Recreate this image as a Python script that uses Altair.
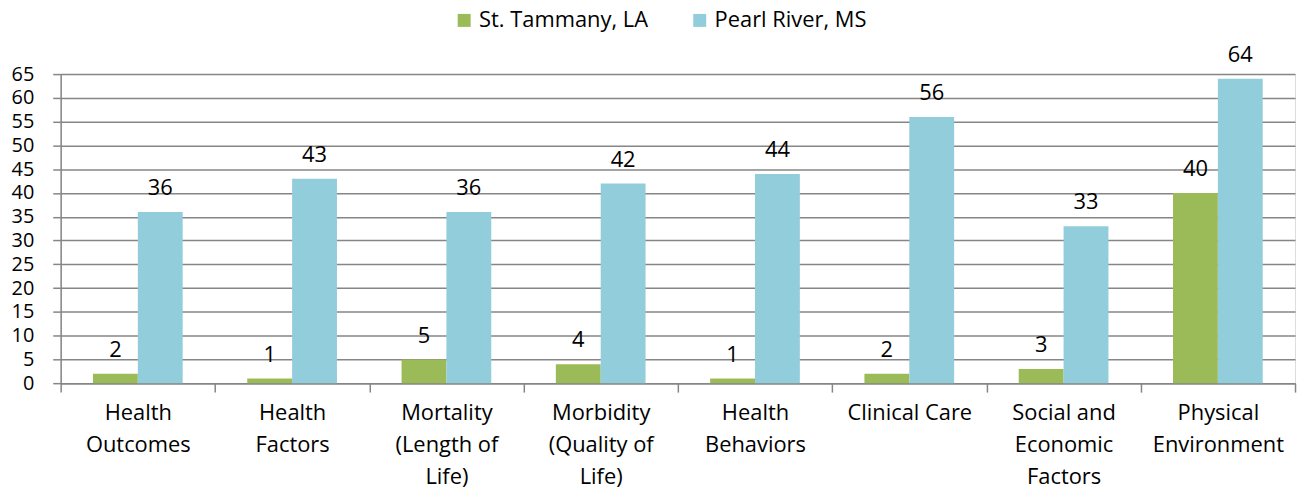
import altair as alt
import pandas as pd

categories = ["Health|Outcomes", "Health|Factors", "Mortality|(Length of|Life)",
              "Morbidity|(Quality of|Life)", "Health|Behaviors", "Clinical Care",
              "Social and|Economic|Factors", "Physical|Environment"]
series = ["St. Tammany, LA", "Pearl River, MS"]
st_tammany = [2, 1, 5, 4, 1, 2, 3, 40]
pearl_river = [36, 43, 36, 42, 44, 56, 33, 64]
colors = ["#9BBB59", "#92CDDC"]
y_ticks = [0, 5, 10, 15, 20, 25, 30, 35, 40, 45, 50, 55, 60, 65]

rows = []
for c, a, b in zip(categories, st_tammany, pearl_river):
    rows.append({"category": c, "series": series[0], "value": a})
    rows.append({"category": c, "series": series[1], "value": b})
df = pd.DataFrame(rows)

FONT = "Open Sans"
FS = 22

x = alt.X("category:N", sort=categories, title=None,
          scale=alt.Scale(paddingInner=0, paddingOuter=0),
          axis=alt.Axis(labelExpr="isValid(datum.value) ? split(datum.value, '|') : ''",
                        labelAngle=0,
                        labelFontSize=FS, labelFont=FONT, labelColor="#000000",
                        labelLineHeight=32, labelBaseline="top", labelPadding=11,
                        labelOverlap=False, labelBound=False, labelLimit=300,
                        tickBand="extent", tickSize=9, tickColor="#868686",
                        tickWidth=1.5, domainColor="#868686", domainWidth=1.5,
                        grid=False))
xo = alt.XOffset("series:N", sort=series,
                 scale=alt.Scale(paddingInner=0, paddingOuter=0.72))
y = alt.Y("value:Q", title=None,
          scale=alt.Scale(domain=[0, 65], nice=False),
          axis=alt.Axis(values=y_ticks, labelFontSize=20, labelFont=FONT,
                        labelColor="#000000", labelPadding=19, tickSize=8,
                        labelOverlap=False, labelFlush=False,
                        tickColor="#868686", tickWidth=1.5, gridColor="#868686",
                        gridWidth=1.5, domainColor="#868686", domainWidth=1.5))
color = alt.Color("series:N", sort=series,
                  scale=alt.Scale(domain=series, range=colors),
                  legend=alt.Legend(title=None, orient="none", direction="horizontal",
                                    legendX=395, legendY=-65, symbolType="square",
                                    symbolSize=170, symbolStrokeWidth=0,
                                    labelFontSize=FS, labelFont=FONT, labelLimit=400,
                                    labelColor="#000000", columnPadding=40,
                                    symbolOpacity=1))

bars = alt.Chart(df).mark_bar(opacity=1).encode(x=x, xOffset=xo, y=y, color=color)
labels = alt.Chart(df).mark_text(baseline="bottom", dy=-12, fontSize=FS, font=FONT,
                                 color="#000000").encode(
    x=x, xOffset=xo, y=y, text="value:Q")

chart = (bars + labels).properties(
    width=1242, height=311,
    autosize=alt.AutoSizeParams(type="none"),
    padding={"left": 53, "top": 65, "right": 3, "bottom": 107},
).configure_view(stroke=None).configure(background="#ffffff")

chart.save("out.html", embed_options={"renderer": "svg", "actions": False})
